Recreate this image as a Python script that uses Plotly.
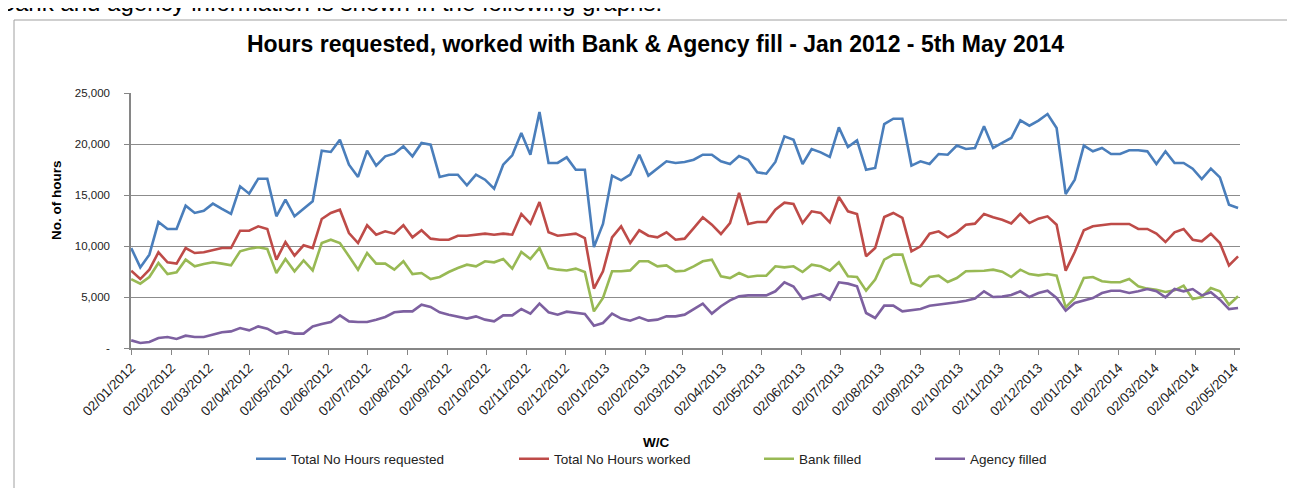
import pandas as pd
import plotly.graph_objects as go

# Weekly W/C dates (Mondays) 02/01/2012 .. 05/05/2014
weeks = pd.date_range("2012-01-02", periods=123, freq="7D")

requested = [
    9800, 7900, 9150, 12350, 11670, 11670, 13950, 13240, 13460, 14150,
    13630, 13140, 15850, 15130, 16600, 16600, 12910, 14540, 12910, 13630,
    14380, 19350, 19220, 20420, 17970, 16770, 19350, 17880, 18790, 19050,
    19770, 18790, 20100, 19930, 16770, 16990, 16990, 15950, 16990, 16500,
    15620, 17970, 18890, 21080, 18950, 23140, 18140, 18140, 18690, 17480,
    17480, 9900, 12160, 16900, 16440, 16990, 18950, 16900, 17580, 18300,
    18140, 18240, 18460, 18950, 18950, 18300, 18040, 18820, 18460, 17220,
    17090, 18240, 20750, 20420, 18040, 19510, 19180, 18730, 21630, 19710,
    20360, 17480, 17650, 21960, 22480, 22480, 17880, 18300, 18040, 19020,
    18950, 19840, 19510, 19610, 21730, 19610, 20100, 20590, 22320, 21800,
    22290, 22940, 21570, 15100, 16500, 19840, 19280, 19610, 19020, 19020,
    19380, 19380, 19280, 18040, 19280, 18140, 18140, 17580, 16570, 17580,
    16730, 14050, 13730,
]

worked = [
    7580, 6760, 7680, 9380, 8400, 8270, 9800, 9310, 9380, 9580,
    9800, 9800, 11500, 11500, 11930, 11670, 8660, 10390, 9050, 10070,
    9800, 12650, 13240, 13560, 11270, 10290, 12030, 11110, 11440, 11210,
    12030, 10850, 11540, 10720, 10620, 10620, 11010, 11010, 11110, 11210,
    11110, 11210, 11110, 13140, 12190, 14310, 11340, 11010, 11110, 11210,
    10780, 5820, 7520, 10850, 11930, 10290, 11540, 11010, 10850, 11340,
    10620, 10720, 11760, 12810, 12090, 11180, 12250, 15200, 12160, 12350,
    12350, 13560, 14250, 14120, 12250, 13400, 13240, 12320, 14800, 13400,
    13140, 8990, 9800, 12840, 13240, 12750, 9480, 9970, 11210, 11440,
    10850, 11340, 12090, 12190, 13140, 12810, 12580, 12220, 13140, 12250,
    12680, 12910, 12090, 7580, 9410, 11540, 11930, 12030, 12160, 12160,
    12160, 11670, 11670, 11210, 10390, 11340, 11670, 10620, 10460, 11210,
    10290, 8100, 8990,
]

bank = [
    6760, 6310, 6960, 8330, 7250, 7420, 8660, 8010, 8240, 8400,
    8270, 8100, 9480, 9740, 9870, 9710, 7350, 8730, 7520, 8590,
    7610, 10290, 10620, 10290, 9000, 7680, 9310, 8270, 8270, 7680,
    8500, 7250, 7350, 6760, 6960, 7450, 7840, 8170, 8010, 8500,
    8400, 8730, 7780, 9410, 8730, 9800, 7840, 7680, 7600, 7780,
    7450, 3590, 4900, 7520, 7520, 7610, 8500, 8500, 8010, 8100,
    7520, 7580, 8010, 8500, 8660, 7030, 6860, 7350, 6960, 7090,
    7090, 8010, 7910, 8010, 7450, 8170, 8010, 7580, 8400, 7030,
    6960, 5620, 6700, 8660, 9150, 9150, 6370, 6050, 6960, 7090,
    6470, 6860, 7520, 7520, 7580, 7680, 7480, 6960, 7680, 7250,
    7120, 7250, 7090, 3990, 4900, 6860, 6960, 6540, 6440, 6440,
    6760, 6050, 5820, 5720, 5490, 5650, 6110, 4800, 5000, 5880,
    5560, 4250, 5070,
]

agency = [
    750, 490, 590, 980, 1080, 880, 1210, 1080, 1080, 1310,
    1540, 1630, 1960, 1730, 2120, 1900, 1410, 1630, 1410, 1410,
    2120, 2350, 2550, 3200, 2610, 2550, 2550, 2780, 3040, 3500,
    3590, 3590, 4250, 4020, 3500, 3270, 3100, 2880, 3100, 2780,
    2610, 3200, 3200, 3820, 3370, 4350, 3500, 3270, 3560, 3430,
    3330, 2190, 2450, 3370, 2880, 2680, 3010, 2680, 2780, 3100,
    3100, 3270, 3820, 4350, 3370, 4090, 4670, 5070, 5160, 5160,
    5160, 5560, 6440, 6020, 4800, 5070, 5290, 4740, 6440, 6310,
    6050, 3430, 2940, 4150, 4150, 3590, 3690, 3820, 4150, 4250,
    4350, 4480, 4640, 4840, 5560, 5000, 5040, 5200, 5560, 5000,
    5390, 5620, 4900, 3660, 4410, 4640, 4900, 5390, 5620, 5620,
    5390, 5560, 5780, 5560, 4970, 5780, 5560, 5780, 5160, 5460,
    4740, 3820, 3920,
]

series_names = ["Total No Hours requested", "Total No Hours worked", "Bank filled", "Agency filled"]
series_colors = ["#4A7EBB", "#BE4B48", "#98B954", "#7D60A0"]

tick_dates = pd.date_range("2012-01-01", "2014-05-01", freq="MS") + pd.Timedelta(days=1)
tick_labels = [d.strftime("%d/%m/%Y") for d in tick_dates]

y_tickvals = [0, 5000, 10000, 15000, 20000, 25000]
y_ticktext = ["-", "5,000", "10,000", "15,000", "20,000", "25,000"]

FONT = "Liberation Sans"

# geometry helpers (pixels)
W, H = 1295, 488
L, R, T, B = 123, 63, 85, 148
pw, ph = W - L - R, H - T - B


def px_x(x):
    return (x - L) / pw


def px_y(y):
    return (H - B - y) / ph


fig = go.Figure()
data = [requested, worked, bank, agency]
legend_x = [243, 506, 751, 922]
for i, (name, vals, col) in enumerate(zip(series_names, data, series_colors)):
    lg = "legend" if i == 0 else f"legend{i + 1}"
    fig.add_trace(go.Scatter(
        x=weeks, y=vals, mode="lines", name=name,
        line=dict(color=col, width=2.6), legend=lg,
    ))

legend_common = dict(
    orientation="h", yanchor="middle", xanchor="left",
    font=dict(family=FONT, size=13.5, color="#222"),
    bgcolor="rgba(0,0,0,0)", tracegroupgap=0, itemwidth=30,
)
layout_legends = {}
for i, lx in enumerate(legend_x):
    key = "legend" if i == 0 else f"legend{i + 1}"
    layout_legends[key] = dict(x=px_x(lx), y=px_y(451), **legend_common)

fig.update_layout(
    width=W, height=H,
    margin=dict(l=L, r=R, t=T, b=B),
    paper_bgcolor="white", plot_bgcolor="white",
    showlegend=True,
    title=dict(
        text="<b>Hours requested, worked with Bank & Agency fill - Jan 2012 - 5th May 2014</b>",
        x=0.5, xanchor="center", xref="container", y=1 - 36 / H, yanchor="middle",
        font=dict(family=FONT, size=23, color="black"),
    ),
    xaxis=dict(
        type="date",
        range=["2012-01-01 20:00", "2014-05-06 12:00"],
        tickvals=list(tick_dates), ticktext=tick_labels, tickangle=-45,
        ticks="outside", ticklen=5, tickcolor="#868686",
        showline=True, linecolor="#868686", linewidth=1.5,
        showgrid=False, zeroline=False,
        tickfont=dict(family=FONT, size=13.5, color="#222"),
    ),
    yaxis=dict(
        range=[0, 25000],
        tickvals=y_tickvals, ticktext=y_ticktext,
        ticks="outside", ticklen=5, tickcolor="#868686",
        showline=True, linecolor="#868686", linewidth=1.5,
        showgrid=True, gridcolor="#8C8C8C", gridwidth=1,
        zeroline=False, ticklabelstandoff=12,
        tickfont=dict(family=FONT, size=11.5, color="#222"),
    ),
    **layout_legends,
)

fig.add_annotation(
    text="<b>No. of hours</b>", textangle=-90, showarrow=False,
    xref="paper", yref="paper", x=px_x(48), y=px_y(192),
    xanchor="center", yanchor="middle",
    font=dict(family=FONT, size=13.5, color="black"),
)
fig.add_annotation(
    text="<b>W/C</b>", showarrow=False,
    xref="paper", yref="paper", x=px_x(648), y=px_y(434),
    xanchor="center", yanchor="middle",
    font=dict(family=FONT, size=13.5, color="black"),
)
fig.add_annotation(
    text="Bank and agency information is shown in the following graphs:", showarrow=False,
    xref="paper", yref="paper", x=px_x(-11), y=px_y(-5),
    xanchor="left", yanchor="middle",
    font=dict(family=FONT, size=24, color="black"),
)
# chart-area frame
fig.add_shape(
    type="rect", xref="paper", yref="paper",
    x0=px_x(6), x1=px_x(1283), y0=px_y(498), y1=px_y(12),
    line=dict(color="#A0A0A0", width=1), fillcolor="rgba(0,0,0,0)", layer="below",
)

fig.write_html("out.html")
